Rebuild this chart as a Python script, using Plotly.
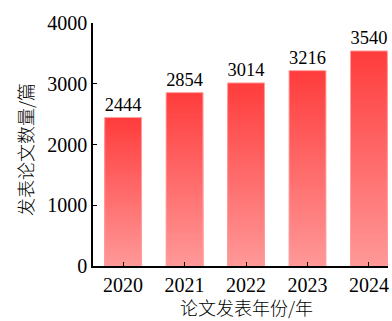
import plotly.graph_objects as go

years = ["2020", "2021", "2022", "2023", "2024"]
papers = [2444, 2854, 3014, 3216, 3540]
y_ticks = [0, 1000, 2000, 3000, 4000]

x_title = "论文发表年份/年"
y_title = "发表论文数量/篇"

top_rgb = (255, 60, 60)
bot_rgb = (255, 152, 152)
N = 60

fig = go.Figure()
for k in range(N):
    frac = (N - k) / N  # relative height of this layer
    t = (N - k - 0.5) / N
    r = round(bot_rgb[0] + (top_rgb[0] - bot_rgb[0]) * t)
    g = round(bot_rgb[1] + (top_rgb[1] - bot_rgb[1]) * t)
    b = round(bot_rgb[2] + (top_rgb[2] - bot_rgb[2]) * t)
    fig.add_trace(go.Bar(
        x=years, y=[v * frac for v in papers], width=0.6,
        marker=dict(color=f"rgb({r},{g},{b})", line=dict(width=0)),
        hoverinfo="skip", showlegend=False,
    ))

fig.add_trace(go.Bar(
    x=years, y=papers, width=0.6,
    marker=dict(color="rgba(0,0,0,0)", line=dict(color="#ffa0a0", width=1)),
    text=[str(v) for v in papers], textposition="outside", cliponaxis=False,
    textfont=dict(family="Liberation Serif, Times New Roman, serif", size=20, color="black"),
    showlegend=False,
))

font_fam = "Liberation Serif, Noto Sans CJK SC, serif"
cjk_font = dict(family="Noto Sans CJK SC", size=19, weight=300, color="black")
fig.update_layout(
    width=392, height=321,
    margin=dict(l=93, r=4, t=23, b=55),
    barmode="overlay",
    plot_bgcolor="white", paper_bgcolor="white",
    font=dict(family=font_fam, size=20, color="black"),
    annotations=[
        dict(text=x_title, xref="paper", yref="paper", x=0.52, y=0,
             xanchor="center", yanchor="bottom", yshift=-55, borderpad=0,
             showarrow=False, font=dict(cjk_font, size=18)),
        dict(text=y_title, xref="paper", yref="paper", x=-0.2305, y=0.477,
             xanchor="center", yanchor="middle", textangle=-90, showarrow=False,
             font=dict(cjk_font, size=18)),
    ],
)
fig.update_xaxes(
    type="category", range=[-0.49, 4.31], automargin=False,
    showline=True, linecolor="black", linewidth=1.5,
    ticks="inside", ticklen=4, tickwidth=1.2, tickcolor="black",
    tickfont=dict(size=20), showgrid=False, zeroline=False,
)
fig.update_yaxes(
    range=[0, 4000], tickvals=y_ticks, automargin=False,
    showline=True, linecolor="black", linewidth=1.5,
    ticks="inside", ticklen=4, tickwidth=1.2, tickcolor="black",
    tickfont=dict(size=20), showgrid=False, zeroline=False,
)

fig.write_html("out.html")
